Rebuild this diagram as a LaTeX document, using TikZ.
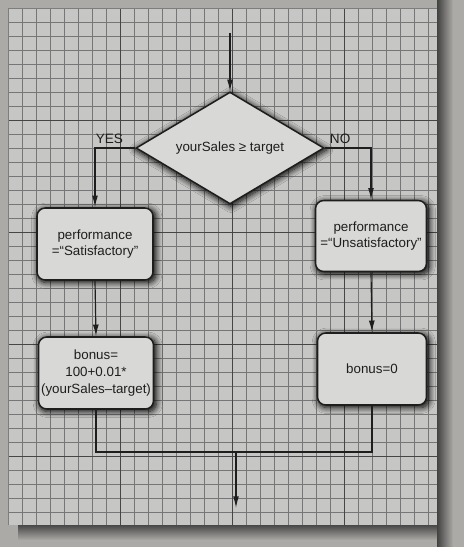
\documentclass[tikz,border=0pt]{standalone}
\usepackage{fontspec}
\setmainfont{Liberation Sans}
\usetikzlibrary{shapes.geometric,arrows.meta,shadows.blur,calc}
\definecolor{paper}{RGB}{198,198,196}
\definecolor{outer}{RGB}{172,170,166}
\definecolor{darkedge}{RGB}{55,55,55}
\definecolor{gridc}{RGB}{118,118,118}
\definecolor{majorc}{RGB}{70,70,70}
\definecolor{boxfill}{RGB}{216,216,214}
\definecolor{ink}{RGB}{30,30,30}
\tikzset{
  txt/.style={font=\fontsize{11.4}{14.2}\selectfont, text=ink, align=center},
  procbox/.style={txt, draw=ink, line width=1.3pt, fill=boxfill, rounded corners=7pt,
    inner sep=0pt,
    blur shadow={shadow xshift=1.5pt, shadow yshift=-1.5pt, shadow blur radius=5pt,
      shadow scale=1.02, shadow blur steps=10, shadow opacity=100}},
  decbox/.style={txt, diamond, aspect=1.68, draw=ink, line width=1.3pt, fill=boxfill, inner sep=0pt,
    blur shadow={shadow xshift=1pt, shadow yshift=-1.5pt, shadow blur radius=5pt,
      shadow scale=1.02, shadow blur steps=10, shadow opacity=100}},
  conn/.style={draw=ink, line width=1pt},
  arr/.style={conn, -{Latex[length=10pt,width=5pt]}},
  lbl/.style={font=\fontsize{11.6}{14}\selectfont, text=ink, inner sep=0pt},
  minorline/.style={gridc, line width=0.55pt},
  majorline/.style={majorc, line width=0.85pt}
}
\begin{document}
\begin{tikzpicture}[x=0.03cm,y=-0.03cm]
\useasboundingbox (0,0) rectangle (464,547);
% background
\fill[outer] (0,0) rectangle (464,547);
\foreach \k in {0,...,15}
  \fill[darkedge, opacity={0.9*(1-\k/16)}] (437+\k,0) rectangle (438+\k,547);
\foreach \k in {0,...,14}
  \fill[darkedge, opacity={0.85*(1-\k/15)}] (18,525+\k) rectangle (437,526+\k);
\fill[paper] (8,8) rectangle (437,525);
% grid
\foreach \i in {0,...,30} \draw[minorline] (8+14*\i,8) -- (8+14*\i,525);
\foreach \j in {0,...,36} \draw[minorline] (8,8+14*\j) -- (437,8+14*\j);
\foreach \i in {8,16,24} \draw[majorline] (8+14*\i,8) -- (8+14*\i,525);
\foreach \j in {8,16,24,32} \draw[majorline] (8,8+14*\j) -- (437,8+14*\j);
\draw[majorc!70, line width=0.8pt] (8,525) -- (8,8) -- (437,8);

% nodes
\node[decbox, minimum width={188*0.03cm}, minimum height={112*0.03cm}] (dec) at (230,148) {yourSales ≥ target};
\node[procbox, minimum width={116*0.03cm}, minimum height={72*0.03cm}] (s1) at (95,244)
  {performance\\=“Satisfactory”};
\node[procbox, minimum width={115*0.03cm}, minimum height={72*0.03cm}] (s2) at (96,373)
  {bonus=\\100+0.01*\\(yourSales–target)};
\node[procbox, minimum width={111*0.03cm}, minimum height={71*0.03cm}] (u1) at (371,236)
  {performance\\=“Unsatisfactory”};
\node[procbox, minimum width={109*0.03cm}, minimum height={72*0.03cm}] (u2) at (372,369)
  {bonus=0};

\coordinate (in) at (230,33);
\coordinate (m) at (236,452);
\coordinate (out) at (236,508);

% connectors
\draw[arr] (in) -- (dec.north);
\draw[arr] (dec.west) -| (s1.north);
\draw[arr] (dec.east) -| (u1.north);
\draw[arr] (s1.south) -- (s2.north);
\draw[arr] (u1.south) -- (u2.north);
\draw[conn] (s2.south) |- (m) -| (u2.south);
\draw[arr] (m) -- (out);

% labels
\node[lbl, anchor=south east] (yes) at ($(dec.west)+(-12,-4)$) {YES};
\node[lbl, anchor=south west] (no) at ($(dec.east)+(5,-4)$) {NO};
\end{tikzpicture}
\end{document}
